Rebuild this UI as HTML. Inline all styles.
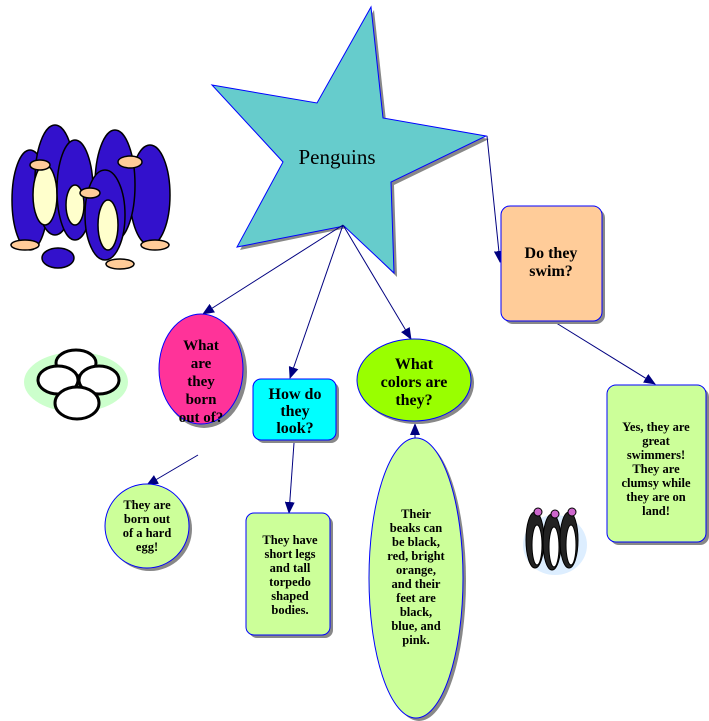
<!DOCTYPE html>
<html><head><style>
html,body{margin:0;padding:0;background:#fff;}
svg{display:block;}
text{font-family:"Liberation Serif",serif;}
.b{font-weight:bold;font-size:16px;text-anchor:middle;}
.s{font-weight:bold;font-size:12.5px;text-anchor:middle;}
</style></head><body>
<svg width="709" height="721" viewBox="0 0 709 721" xmlns="http://www.w3.org/2000/svg">
<defs>
<marker id="a" markerWidth="12" markerHeight="10" refX="11" refY="5" orient="auto" markerUnits="userSpaceOnUse">
<path d="M0,0 L12,5 L0,10 Z" fill="#000080"/></marker>
</defs>
<polygon points="374,10 386,121 489,139 394,185 397,277 347,228 240,250 286,165 215,88 320,106" fill="#888"/>
<polygon points="371,7 383,118 486,136 391,182 394,273 344,226 237,247 283,162 212,85 317,103" fill="#66cccc" stroke="#0000ff" stroke-width="1"/>
<text x="337" y="164" font-size="21" text-anchor="middle">Penguins</text>
<g stroke="#000080" stroke-width="1" fill="none">
<line x1="343" y1="225" x2="203" y2="314" marker-end="url(#a)"/>
<line x1="343" y1="225" x2="290" y2="378" marker-end="url(#a)"/>
<line x1="343" y1="225" x2="411" y2="339" marker-end="url(#a)"/>
<line x1="487" y1="136" x2="500" y2="262" marker-end="url(#a)"/>
<line x1="553" y1="321" x2="655" y2="384" marker-end="url(#a)"/>
<line x1="198" y1="455" x2="147" y2="485" marker-end="url(#a)"/>
<line x1="294" y1="443" x2="289" y2="513" marker-end="url(#a)"/>
<line x1="415" y1="438" x2="415" y2="424" marker-end="url(#a)"/>
</g>
<ellipse cx="204" cy="372" rx="43" ry="56" fill="#888"/>
<ellipse cx="201" cy="369" rx="42" ry="55" fill="#ff3399" stroke="#0000ff"/>
<text class="b" x="201" y="350" style="font-size:15px">What</text>
<text class="b" x="201" y="368" style="font-size:15px">are</text>
<text class="b" x="201" y="386" style="font-size:15px">they</text>
<text class="b" x="201" y="404" style="font-size:15px">born</text>
<text class="b" x="201" y="422" style="font-size:15px">out of?</text>
<rect x="256" y="382" width="83" height="61" rx="8" fill="#888"/>
<rect x="253" y="379" width="83" height="61" rx="8" fill="#00ffff" stroke="#0000ff"/>
<text class="b" x="295" y="399">How do</text>
<text class="b" x="295" y="416">they</text>
<text class="b" x="295" y="433">look?</text>
<ellipse cx="417" cy="383" rx="57" ry="41" fill="#888"/>
<ellipse cx="414" cy="380" rx="57" ry="41" fill="#99ff00" stroke="#0000ff"/>
<text class="b" x="414" y="369">What</text>
<text class="b" x="414" y="387">colors are</text>
<text class="b" x="414" y="405">they?</text>
<rect x="504" y="209" width="101" height="115" rx="9" fill="#888"/>
<rect x="501" y="206" width="101" height="115" rx="9" fill="#ffcc99" stroke="#0000ff"/>
<text class="b" x="551" y="258">Do they</text>
<text class="b" x="551" y="276">swim?</text>
<circle cx="150" cy="529" r="42" fill="#888"/>
<circle cx="147" cy="526" r="42" fill="#ccff99" stroke="#0000ff"/>
<text class="s" x="147" y="509">They are</text>
<text class="s" x="147" y="523">born out</text>
<text class="s" x="147" y="537">of a hard</text>
<text class="s" x="147" y="551">egg!</text>
<rect x="249" y="516" width="84" height="122" rx="8" fill="#888"/>
<rect x="246" y="513" width="84" height="122" rx="8" fill="#ccff99" stroke="#0000ff"/>
<text class="s" x="290" y="544">They have</text>
<text class="s" x="290" y="558">short legs</text>
<text class="s" x="290" y="572">and tall</text>
<text class="s" x="290" y="586">torpedo</text>
<text class="s" x="290" y="600">shaped</text>
<text class="s" x="290" y="614">bodies.</text>
<ellipse cx="419" cy="581" rx="47" ry="140" fill="#888"/>
<ellipse cx="416" cy="578" rx="47" ry="140" fill="#ccff99" stroke="#0000ff"/>
<text class="s" x="416" y="518">Their</text>
<text class="s" x="416" y="532">beaks can</text>
<text class="s" x="416" y="546">be black,</text>
<text class="s" x="416" y="560">red, bright</text>
<text class="s" x="416" y="574">orange,</text>
<text class="s" x="416" y="588">and their</text>
<text class="s" x="416" y="602">feet are</text>
<text class="s" x="416" y="616">black,</text>
<text class="s" x="416" y="630">blue, and</text>
<text class="s" x="416" y="644">pink.</text>
<rect x="610" y="388" width="99" height="157" rx="9" fill="#888"/>
<rect x="607" y="385" width="99" height="157" rx="9" fill="#ccff99" stroke="#0000ff"/>
<text class="s" x="656" y="431">Yes, they are</text>
<text class="s" x="656" y="445">great</text>
<text class="s" x="656" y="459">swimmers!</text>
<text class="s" x="656" y="473">They are</text>
<text class="s" x="656" y="487">clumsy while</text>
<text class="s" x="656" y="501">they are on</text>
<text class="s" x="656" y="515">land!</text>
<g stroke="#000" stroke-width="1.5">
<ellipse cx="30" cy="200" rx="18" ry="50" fill="#3311cc"/>
<ellipse cx="150" cy="195" rx="20" ry="50" fill="#3311cc"/>
<ellipse cx="55" cy="180" rx="20" ry="55" fill="#3311cc"/>
<ellipse cx="45" cy="195" rx="12" ry="30" fill="#ffffcc"/>
<ellipse cx="75" cy="190" rx="18" ry="50" fill="#3311cc"/>
<ellipse cx="115" cy="185" rx="20" ry="55" fill="#3311cc"/>
<ellipse cx="105" cy="215" rx="20" ry="45" fill="#3311cc"/>
<ellipse cx="108" cy="225" rx="10" ry="25" fill="#ffffcc"/>
<ellipse cx="75" cy="205" rx="9" ry="20" fill="#ffffcc"/>
<ellipse cx="58" cy="258" rx="16" ry="10" fill="#3311cc"/>
<ellipse cx="130" cy="162" rx="12" ry="6" fill="#ffcc99"/>
<ellipse cx="40" cy="165" rx="10" ry="5" fill="#ffcc99"/>
<ellipse cx="90" cy="193" rx="10" ry="5" fill="#ffcc99"/>
<ellipse cx="25" cy="245" rx="14" ry="5" fill="#ffcc99"/>
<ellipse cx="155" cy="245" rx="14" ry="5" fill="#ffcc99"/>
<ellipse cx="120" cy="264" rx="14" ry="5" fill="#ffcc99"/>
</g>
<ellipse cx="76" cy="382" rx="52" ry="30" fill="#ccffcc"/>
<g stroke="#000" stroke-width="3" fill="#fff">
<ellipse cx="76" cy="363" rx="20" ry="13"/>
<ellipse cx="58" cy="380" rx="20" ry="14"/>
<ellipse cx="99" cy="380" rx="20" ry="14"/>
<ellipse cx="77" cy="403" rx="22" ry="16"/>
</g>
<ellipse cx="555" cy="545" rx="32" ry="30" fill="#ddeeff"/>
<g stroke="#000" stroke-width="1">
<ellipse cx="535" cy="540" rx="9" ry="28" fill="#222"/>
<ellipse cx="552" cy="542" rx="9" ry="28" fill="#222"/>
<ellipse cx="569" cy="540" rx="9" ry="28" fill="#222"/>
<ellipse cx="537" cy="545" rx="5" ry="20" fill="#fff"/>
<ellipse cx="554" cy="547" rx="5" ry="20" fill="#fff"/>
<ellipse cx="571" cy="545" rx="5" ry="20" fill="#fff"/>
<circle cx="538" cy="512" r="4" fill="#cc66cc"/>
<circle cx="555" cy="514" r="4" fill="#cc66cc"/>
<circle cx="572" cy="512" r="4" fill="#cc66cc"/>
</g>
</svg>
</body></html>
